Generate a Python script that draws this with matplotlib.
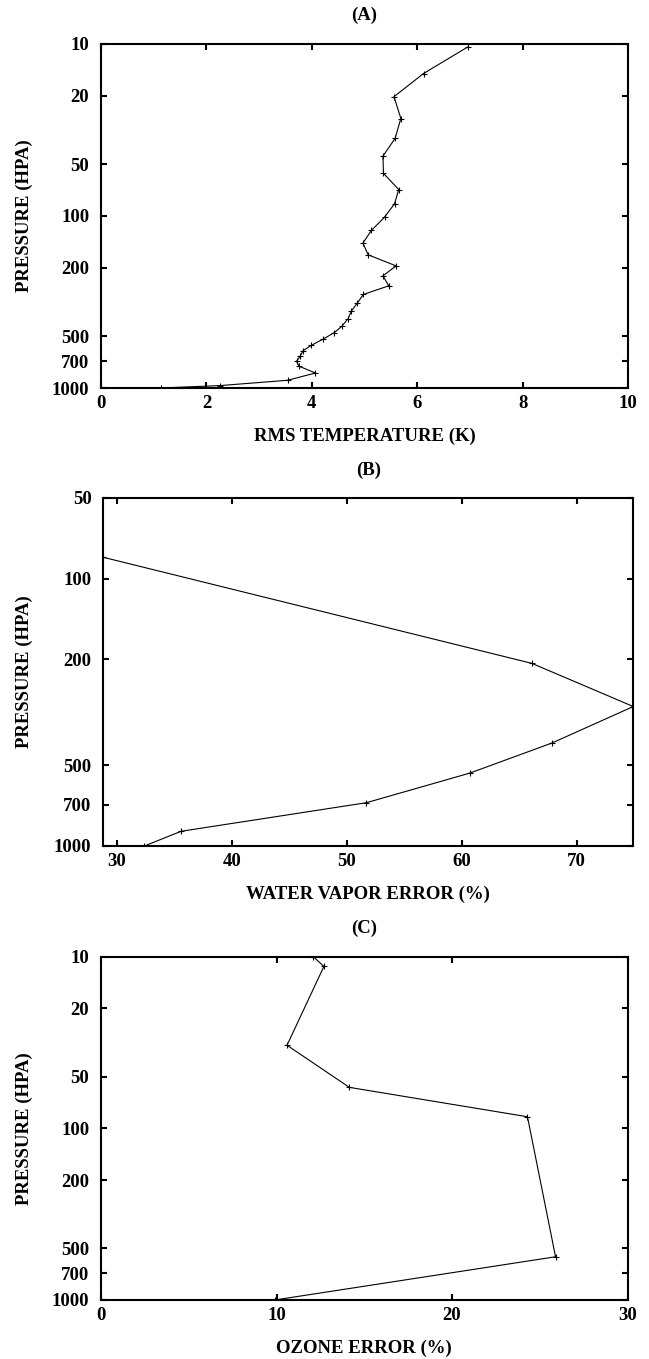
import numpy as np
import matplotlib
matplotlib.use('Agg')
import matplotlib.pyplot as plt
from matplotlib.ticker import FixedLocator, FixedFormatter, NullLocator

plt.rcParams['font.family'] = ['Liberation Serif', 'DejaVu Serif']
plt.rcParams['font.weight'] = 'bold'
plt.rcParams['axes.labelweight'] = 'bold'
plt.rcParams['font.size'] = 13.5

# (A) RMS temperature error vs pressure
temp_rms = [6.97, 6.12, 5.56, 5.69, 5.58, 5.35, 5.36, 5.65, 5.57, 5.38, 5.13,
            4.97, 5.07, 5.60, 5.35, 5.46, 4.98, 4.86, 4.75, 4.69, 4.57, 4.43,
            4.22, 3.99, 3.83, 3.78, 3.71, 3.76, 4.07, 3.54, 2.26, 1.13]
temp_pres = [10.4, 14.9, 20.3, 27.2, 35.5, 45, 56.7, 70.3, 85.1, 101.8, 121.6,
             144, 168.5, 195.3, 223, 255, 286, 322, 358, 395, 438, 476,
             519, 565, 609, 654, 700, 748, 818, 902, 968, 1000]

# (B) water vapor error vs pressure
wv_err = [28.83, 66.1, 74.92, 67.85, 60.7, 51.7, 35.6, 32.4]
wv_pres = [83.3, 207.6, 301, 412, 534, 689, 881, 1000]

# (C) ozone error vs pressure
oz_err = [12.1, 12.7, 10.6, 14.15, 24.3, 25.9, 9.9]
oz_pres = [10, 11.4, 32.8, 57.7, 85.6, 560, 1000]

pres_ticks = [10, 20, 50, 100, 200, 500, 700, 1000]
wv_pres_ticks = [50, 100, 200, 500, 700, 1000]

W, H = 649, 1359
fig = plt.figure(figsize=(W / 100, H / 100), dpi=100)


def make_axes(left, right, top, bottom):
    return fig.add_axes([left / W, 1 - bottom / H, (right - left) / W, (bottom - top) / H])


def style_axes(ax, title, xlabel, yticks, xticks, ylim, xlim, left, right, top, bottom):
    h = bottom - top
    w = right - left
    ax.set_yscale('log')
    ax.set_ylim(ylim[1], ylim[0])
    ax.set_xlim(*xlim)
    ax.yaxis.set_major_locator(FixedLocator(yticks))
    ax.yaxis.set_major_formatter(FixedFormatter([str(t) for t in yticks]))
    ax.yaxis.set_minor_locator(NullLocator())
    ax.set_xticks(xticks)
    ax.set_xticklabels([str(t) for t in xticks])
    ax.tick_params(direction='in', top=True, right=True, length=4.5, width=1.5)
    ax.tick_params(axis='x', pad=5)
    ax.tick_params(axis='y', pad=8.5)
    for s in ax.spines.values():
        s.set_linewidth(1.5)
    ax.text(0.5, 1 + 28 / h, title, transform=ax.transAxes, ha='center', va='center')
    ax.set_xlabel(xlabel, va='center')
    ax.xaxis.set_label_coords(0.5, -48 / h)
    ax.set_ylabel('PRESSURE (HPA)', va='center', ha='center')
    ax.yaxis.set_label_coords((24 - left) / w, 0.5)


line_kw = dict(color='black', linewidth=0.8, marker='+', markersize=5, markeredgewidth=0.8)

# Panel A
box = (101, 628, 43.7, 388)
ax1 = make_axes(*box)
ax1.plot(temp_rms, temp_pres, **line_kw)
style_axes(ax1, '(A)', 'RMS TEMPERATURE (K)', pres_ticks, [0, 2, 4, 6, 8, 10],
           (10, 1000), (0, 10), *box)

# Panel B
box = (103.3, 633.3, 498, 846)
ax2 = make_axes(*box)
ax2.plot(wv_err, wv_pres, **line_kw)
style_axes(ax2, '(B)', 'WATER VAPOR ERROR (%)', wv_pres_ticks, [30, 40, 50, 60, 70],
           (50, 1000), (np.min(wv_err), np.max(wv_err)), *box)

# Panel C
box = (101, 627.5, 956.7, 1300)
ax3 = make_axes(*box)
ax3.plot(oz_err, oz_pres, **line_kw)
style_axes(ax3, '(C)', 'OZONE ERROR (%)', pres_ticks, [0, 10, 20, 30],
           (10, 1000), (0, 30), *box)

fig.savefig('out.png', dpi=100)
